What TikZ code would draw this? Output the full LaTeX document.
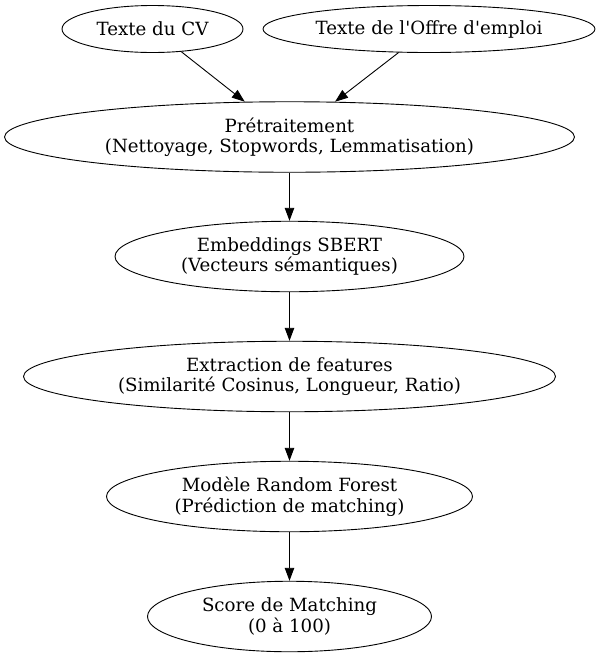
\documentclass[tikz,border=0pt]{standalone}
\usepackage{fontspec}
\setmainfont{DejaVu Serif}
\usetikzlibrary{arrows.meta,shapes.geometric}
\tikzset{
  proc/.style={ellipse, draw, line width=0.9pt, inner sep=0pt, align=center,
    font=\fontsize{18.2}{20.5}\selectfont},
  conn/.style={draw, line width=0.9pt, -{Triangle[length=13pt,width=9.5pt]}}
}
\begin{document}
\begin{tikzpicture}[x=1pt,y=-1pt]
\useasboundingbox (0,0) rectangle (601,657);
\node[proc, minimum width=181pt, minimum height=47pt] (cv) at (152.5,29) {Texte du CV};
\node[proc, minimum width=332pt, minimum height=47pt] (offre) at (429,29) {Texte de l\textquotesingle Offre d\textquotesingle emploi};
\node[proc, minimum width=570pt, minimum height=70.5pt] (pre) at (289.5,137) {Prétraitement\\(Nettoyage, Stopwords, Lemmatisation)};
\node[proc, minimum width=349pt, minimum height=70.5pt] (emb) at (289.5,256.5) {Embeddings SBERT\\(Vecteurs sémantiques)};
\node[proc, minimum width=532pt, minimum height=70.5pt] (feat) at (289.5,376.5) {Extraction de features\\(Similarité Cosinus, Longueur, Ratio)};
\node[proc, minimum width=366pt, minimum height=70.5pt] (rf) at (289.5,496.5) {Modèle Random Forest\\(Prédiction de matching)};
\node[proc, minimum width=284pt, minimum height=70.5pt] (score) at (289.5,616.5) {Score de Matching\\(0 à 100)};
\draw[conn] (cv) -- (pre);
\draw[conn] (offre) -- (pre);
\draw[conn] (pre) -- (emb);
\draw[conn] (emb) -- (feat);
\draw[conn] (feat) -- (rf);
\draw[conn] (rf) -- (score);
\end{tikzpicture}
\end{document}
